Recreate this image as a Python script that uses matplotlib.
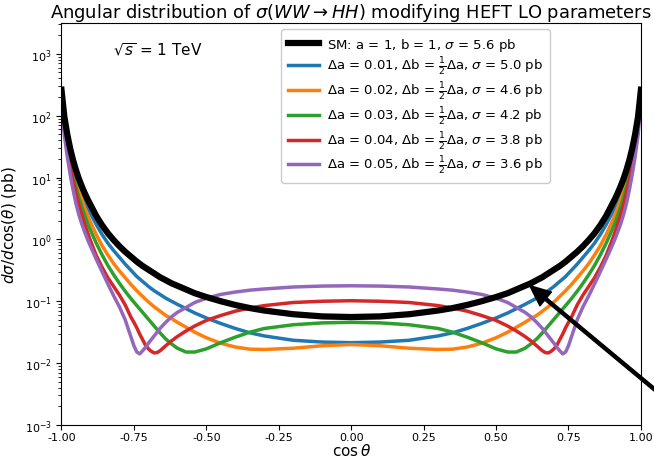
import numpy as np
import matplotlib
matplotlib.use("Agg")
import matplotlib.pyplot as plt

cos_theta = [-1.0, -0.99, -0.98, -0.97, -0.96, -0.95, -0.94, -0.93, -0.92, -0.91, -0.90,
             -0.88, -0.86, -0.84, -0.82, -0.80, -0.78, -0.76,
             -0.75, -0.74, -0.73, -0.72, -0.71, -0.70, -0.69, -0.68, -0.67,
             -0.66, -0.64, -0.62, -0.60, -0.57, -0.54, -0.50, -0.45, -0.40, -0.35, -0.30,
             -0.20, -0.10, 0.0,
             0.10, 0.20, 0.30, 0.35, 0.40, 0.45, 0.50, 0.54, 0.57, 0.60, 0.62, 0.64, 0.66,
             0.67, 0.68, 0.69, 0.70, 0.71, 0.72, 0.73, 0.74, 0.75,
             0.76, 0.78, 0.80, 0.82, 0.84, 0.86, 0.88,
             0.90, 0.91, 0.92, 0.93, 0.94, 0.95, 0.96, 0.97, 0.98, 0.99, 1.0]

sm = [263, 95.5, 50.1, 29.5, 19.1, 13.2, 9.55, 7.24, 5.62, 4.47, 3.63,
      2.40, 1.70, 1.26, 0.977, 0.776, 0.631, 0.525,
      0.479, 0.437, 0.403, 0.372, 0.347, 0.324, 0.302, 0.282, 0.263,
      0.245, 0.219, 0.195, 0.178, 0.155, 0.135, 0.117, 0.100, 0.0871, 0.0776, 0.0708,
      0.0617, 0.0569, 0.0556,
      0.0569, 0.0617, 0.0708, 0.0776, 0.0871, 0.100, 0.117, 0.135, 0.155, 0.178, 0.195, 0.219, 0.245,
      0.263, 0.282, 0.302, 0.324, 0.347, 0.372, 0.403, 0.437, 0.479,
      0.525, 0.631, 0.776, 0.977, 1.26, 1.70, 2.40,
      3.63, 4.47, 5.62, 7.24, 9.55, 13.2, 19.1, 29.5, 50.1, 95.5, 263]

da_001 = [251, 85.1, 43.7, 25.1, 15.8, 10.7, 7.59, 5.62, 4.27, 3.31, 2.63,
          1.74, 1.20, 0.871, 0.661, 0.513, 0.398, 0.316,
          0.282, 0.251, 0.229, 0.209, 0.191, 0.174, 0.160, 0.148, 0.138,
          0.129, 0.112, 0.100, 0.0891, 0.0759, 0.0646, 0.0537, 0.0437, 0.0363, 0.0309, 0.0275,
          0.0234, 0.0219, 0.0214,
          0.0219, 0.0234, 0.0275, 0.0309, 0.0363, 0.0437, 0.0537, 0.0646, 0.0759, 0.0891, 0.100, 0.112, 0.129,
          0.138, 0.148, 0.160, 0.174, 0.191, 0.209, 0.229, 0.251, 0.282,
          0.316, 0.398, 0.513, 0.661, 0.871, 1.20, 1.74,
          2.63, 3.31, 4.27, 5.62, 7.59, 10.7, 15.8, 25.1, 43.7, 85.1, 251]

da_002 = [234, 75.9, 38.0, 21.4, 13.2, 8.71, 6.03, 4.37, 3.24, 2.45, 1.91,
          1.20, 0.794, 0.562, 0.407, 0.309, 0.240, 0.186,
          0.166, 0.148, 0.133, 0.120, 0.108, 0.0977, 0.0891, 0.0813, 0.0750,
          0.0692, 0.0589, 0.0525, 0.0457, 0.0380, 0.0316, 0.0257, 0.0209, 0.0182, 0.0168, 0.0166,
          0.0174, 0.0191, 0.0200,
          0.0191, 0.0174, 0.0166, 0.0168, 0.0182, 0.0209, 0.0257, 0.0316, 0.0380, 0.0457, 0.0525, 0.0589, 0.0692,
          0.0750, 0.0813, 0.0891, 0.0977, 0.108, 0.120, 0.133, 0.148, 0.166,
          0.186, 0.240, 0.309, 0.407, 0.562, 0.794, 1.20,
          1.91, 2.45, 3.24, 4.37, 6.03, 8.71, 13.2, 21.4, 38.0, 75.9, 234]

da_003 = [219, 67.6, 33.1, 18.2, 11.0, 7.08, 4.79, 3.39, 2.45, 1.82, 1.41,
          0.871, 0.562, 0.380, 0.269, 0.195, 0.145, 0.110,
          0.0966, 0.0851, 0.0750, 0.0661, 0.0582, 0.0513, 0.0452, 0.0398, 0.0351,
          0.0309, 0.0245, 0.0204, 0.0174, 0.0151, 0.0151, 0.0170, 0.0214, 0.0263, 0.0316, 0.0363,
          0.0417, 0.0447, 0.0457,
          0.0447, 0.0417, 0.0363, 0.0316, 0.0263, 0.0214, 0.0170, 0.0151, 0.0151, 0.0174, 0.0204, 0.0245, 0.0309,
          0.0351, 0.0398, 0.0452, 0.0513, 0.0582, 0.0661, 0.0750, 0.0851, 0.0966,
          0.110, 0.145, 0.195, 0.269, 0.380, 0.562, 0.871,
          1.41, 1.82, 2.45, 3.39, 4.79, 7.08, 11.0, 18.2, 33.1, 67.6, 219]

da_004 = [200, 58.9, 28.2, 15.1, 8.91, 5.62, 3.63, 2.51, 1.78, 1.29, 0.955,
          0.550, 0.355, 0.240, 0.174, 0.126, 0.0871, 0.0550,
          0.0457, 0.0372, 0.0295, 0.0240, 0.0195, 0.0170, 0.0155, 0.0146, 0.0148,
          0.0158, 0.0191, 0.0229, 0.0269, 0.0331, 0.0398, 0.0490, 0.0589, 0.0692, 0.0776, 0.0851,
          0.0955, 0.100, 0.102,
          0.100, 0.0955, 0.0851, 0.0776, 0.0692, 0.0589, 0.0490, 0.0398, 0.0331, 0.0269, 0.0229, 0.0191, 0.0158,
          0.0148, 0.0146, 0.0155, 0.0170, 0.0195, 0.0240, 0.0295, 0.0372, 0.0457,
          0.0550, 0.0871, 0.126, 0.174, 0.240, 0.355, 0.550,
          0.955, 1.29, 1.78, 2.51, 3.63, 5.62, 8.91, 15.1, 28.2, 58.9, 200]

da_005 = [166, 47.9, 21.9, 11.2, 6.31, 3.80, 2.51, 1.78, 1.32, 1.00, 0.776,
          0.479, 0.302, 0.191, 0.123, 0.0813, 0.0501, 0.0263,
          0.0191, 0.0151, 0.0141, 0.0158, 0.0180, 0.0209, 0.0240, 0.0275, 0.0316,
          0.0363, 0.0457, 0.0562, 0.0661, 0.0794, 0.0955, 0.112, 0.129, 0.141, 0.151, 0.158,
          0.170, 0.176, 0.178,
          0.176, 0.170, 0.158, 0.151, 0.141, 0.129, 0.112, 0.0955, 0.0794, 0.0661, 0.0562, 0.0457, 0.0363,
          0.0316, 0.0275, 0.0240, 0.0209, 0.0180, 0.0158, 0.0141, 0.0151, 0.0191,
          0.0263, 0.0501, 0.0813, 0.123, 0.191, 0.302, 0.479,
          0.776, 1.00, 1.32, 1.78, 2.51, 3.80, 6.31, 11.2, 21.9, 47.9, 166]

delta_a = ["0.01", "0.02", "0.03", "0.04", "0.05"]
sigmas = ["5.0", "4.6", "4.2", "3.8", "3.6"]
colors = ["#1f77b4", "#ff7f0e", "#2ca02c", "#d62728", "#9467bd"]
x_ticks = [-1.00, -0.75, -0.50, -0.25, 0.00, 0.25, 0.50, 0.75, 1.00]

fig = plt.figure(figsize=(6.54, 4.60), dpi=100)
ax = fig.add_axes([0.094, 0.074, 0.886, 0.874])

ax.plot(cos_theta, sm, color="black", lw=4.5,
        label=r"SM: a = 1, b = 1, $\sigma$ = 5.6 pb", zorder=3)
for ys, da, sg, c in zip([da_001, da_002, da_003, da_004, da_005], delta_a, sigmas, colors):
    ax.plot(cos_theta, ys, color=c, lw=2.5,
            label=r"$\Delta$a = " + da + r", $\Delta$b = $\frac{1}{2}\Delta$a, $\sigma$ = " + sg + " pb")

ax.set_yscale("log")
ax.set_xlim(-1, 1)
ax.set_ylim(1e-3, 10**3.5)
ax.set_xticks(x_ticks)
ax.set_xticklabels([f"{t:.2f}" for t in x_ticks])
ax.tick_params(labelsize=8)
ax.tick_params(axis="x", pad=1.5)
ax.set_xlabel(r"$\cos\theta$", fontsize=11, labelpad=0)
ax.set_ylabel(r"$d\sigma/d\cos(\theta)$ (pb)", fontsize=11)
ax.set_title(r"Angular distribution of $\sigma(WW \rightarrow HH)$ modifying HEFT LO parameters",
             fontsize=12.9, pad=4)

ax.text(0.089, 0.935, r"$\sqrt{s}$ = 1 TeV", transform=ax.transAxes, fontsize=11, va="center")

leg = ax.legend(loc="upper left", bbox_to_anchor=(0.379, 0.985), borderaxespad=0,
                fontsize=9.5, handlelength=2.4, handletextpad=0.6, labelspacing=0.2,
                borderpad=0.5, framealpha=1.0)

ax.annotate("", xy=(0.616, 0.179), xycoords="data",
            xytext=(1.04, 0.105), textcoords="figure fraction",
            arrowprops=dict(facecolor="black", edgecolor="black", width=2.2,
                            headwidth=13, headlength=15),
            annotation_clip=False)

fig.savefig("out.png", dpi=100)
